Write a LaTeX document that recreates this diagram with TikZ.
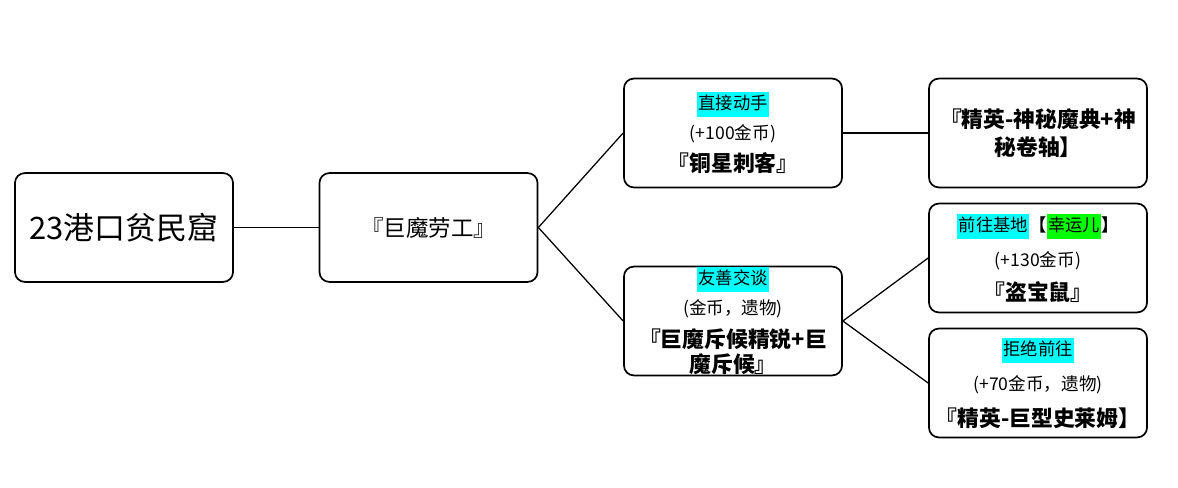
\documentclass[tikz,border=0pt]{standalone}
\usepackage{fontspec}
\setmainfont{Noto Sans CJK SC}
\usetikzlibrary{positioning}
\definecolor{hlcyan}{HTML}{00FFFF}
\definecolor{hlgreen}{HTML}{00FF00}
\newcommand{\hl}[2]{{\setlength{\fboxsep}{1pt}\colorbox{#1}{\rule[-4.5pt]{0pt}{16pt}#2}}}
\newcommand{\lhl}{\fontsize{12.3}{18}\selectfont\mdseries}
\newcommand{\lsm}{\fontsize{12.5}{18}\selectfont\mdseries}
\newcommand{\lbf}{\fontsize{15.5}{18}\selectfont\bfseries}
\tikzset{
  box/.style={draw, line width=1.2pt, rounded corners=7pt, minimum width=5.45cm, minimum height=2.72cm, inner sep=0pt, align=center, font=\fontsize{12}{18}\selectfont},
  link/.style={line width=0.9pt}
}

\begin{document}
\begin{tikzpicture}[x=0.025cm, y=-0.025cm]
  \useasboundingbox (0,0) rectangle (1178,487);
  \node[box, font=\fontsize{22}{26}\selectfont] (slum) at (124,227.5) {23港口贫民窟};
  \node[box, font=\fontsize{16}{20}\selectfont] (worker) at (428.5,227.5) {『巨魔劳工』};
  \node[box] (fight) at (733,133) {\lhl\hl{hlcyan}{直接动手}\\[3.3pt]\lsm(+100金币)\\[4.8pt]\lbf『铜星刺客』};
  \node[box] (talk) at (733,321) {\lhl\hl{hlcyan}{友善交谈}\\[3pt]\lsm(金币，遗物)\\[5.5pt]\lbf『巨魔斥候精锐+巨\\\lbf 魔斥候』};
  \node[box] (tome) at (1038,133) {\lbf『精英-神秘魔典+神\\[2pt]\lbf 秘卷轴】};
  \node[box] (base) at (1038,258) {\lhl\hl{hlcyan}{前往基地}\textbf{【}\hl{hlgreen}{幸运儿}\textbf{】}\\[7pt]\lsm(+130金币)\\[6pt]\lbf『盗宝鼠』};
  \node[box] (refuse) at (1038,383) {\lhl\hl{hlcyan}{拒绝前往}\\[7pt]\lsm(+70金币，遗物)\\[7.6pt]\lbf『精英-巨型史莱姆】};
  \draw[link] (slum) -- (worker);
  \draw[link] (worker.east) -- (fight.west);
  \draw[link] (worker.east) -- (talk.west);
  \draw[link] (fight) -- (tome);
  \draw[link] (talk.east) -- (base.west);
  \draw[link] (talk.east) -- (refuse.west);
\end{tikzpicture}
\end{document}
